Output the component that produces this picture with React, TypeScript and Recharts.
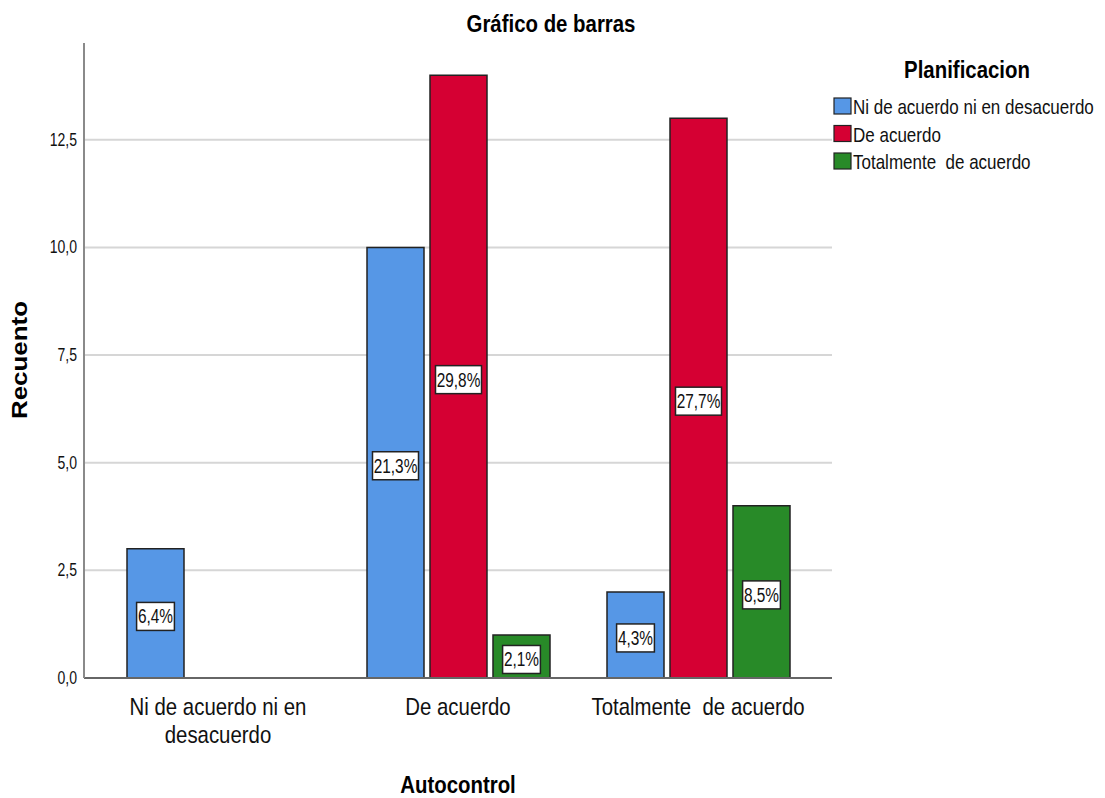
import React from "react";
import { BarChart, Bar, XAxis, YAxis, CartesianGrid, LabelList } from "recharts";

const categories = ["Ni de acuerdo ni en desacuerdo", "De acuerdo", "Totalmente  de acuerdo"];
const categoryLines = [["Ni de acuerdo ni en", "desacuerdo"], ["De acuerdo"], ["Totalmente  de acuerdo"]];
const seriesNames = ["Ni de acuerdo ni en desacuerdo", "De acuerdo", "Totalmente  de acuerdo"];
const seriesColors = ["#5697e6", "#d50033", "#288a28"];
const niValues = [3, 10, 2];
const deValues = [null, 14, 13];
const totValues = [null, 1, 4];
const niPct = ["6,4%", "21,3%", "4,3%"];
const dePct = [null, "29,8%", "27,7%"];
const totPct = [null, "2,1%", "8,5%"];
const yTicks = [0, 2.5, 5, 7.5, 10, 12.5];
const yTickLabels = ["0,0", "2,5", "5,0", "7,5", "10,0", "12,5"];
const yMax = 14.75;

const data = categories.map((c, i) => ({
  cat: c,
  ni: niValues[i],
  de: deValues[i],
  tot: totValues[i],
  niL: niPct[i],
  deL: dePct[i],
  totL: totPct[i],
}));

const FONT = "'Liberation Sans', Arial, sans-serif";

function T({ x, y, fs, bold, s = 0.85, anchor = "middle", rotate = 0, fill = "#000", children }: any) {
  return (
    <text
      transform={`translate(${x},${y}) rotate(${rotate}) scale(${s},1)`}
      fontSize={fs}
      fontFamily={FONT}
      fontWeight={bold ? "bold" : "normal"}
      textAnchor={anchor}
      fill={fill}
      style={{ whiteSpace: "pre" }}
    >
      {children}
    </text>
  );
}

function XTick(props: any) {
  const { x, y, payload } = props;
  const idx = categories.indexOf(payload.value);
  const lines = categoryLines[idx] || [payload.value];
  return (
    <g>
      {lines.map((l, i) => (
        <T key={i} x={x} y={y + 37 + i * 28} fs={24} fill="#111">
          {l}
        </T>
      ))}
    </g>
  );
}

function YTick(props: any) {
  const { x, y, payload } = props;
  const idx = yTicks.indexOf(payload.value);
  return (
    <T x={x} y={y + 6} fs={18} s={0.78} anchor="end" fill="#111">
      {yTickLabels[idx]}
    </T>
  );
}

function PctLabel(props: any) {
  const { x, y, width, height, value } = props;
  if (value == null) return null;
  const cx = x + width / 2;
  const cy = y + height / 2 + 3;
  const w = String(value).length * 8.2 + 5;
  const h = 28;
  return (
    <g>
      <rect x={cx - w / 2} y={cy - h / 2} width={w} height={h} fill="#fff" stroke="#222" strokeWidth={1.5} />
      <T x={cx} y={cy + 7} fs={20} s={0.77} fill="#111">
        {value}
      </T>
    </g>
  );
}

function gridRows(p: any) {
  const sc = p && p.yAxis && p.yAxis.scale;
  const ts = yTicks.filter((t) => t > 0);
  if (typeof sc === "function") return ts.map((t) => sc(t));
  const off = p.offset;
  return ts.map((t) => off.top + off.height * (1 - t / yMax));
}

export default function App() {
  return (
    <div style={{ position: "absolute", left: 0, top: 0, width: 1105, height: 798, background: "#fff" }}>
      <BarChart
        width={1105}
        height={798}
        data={data}
        margin={{ top: 43, right: 273, bottom: 60, left: 24 }}
        barSize={57}
        barGap={6}
      >
        <CartesianGrid vertical={false} stroke="#d6d6d6" strokeWidth={2} horizontalCoordinatesGenerator={gridRows} />
        <XAxis
          dataKey="cat"
          height={60}
          padding={{ left: 14, right: 14 }}
          tickLine={false}
          tickSize={0}
          tickMargin={0}
          axisLine={{ stroke: "#666", strokeWidth: 2 }}
          tick={<XTick />}
          interval={0}
        />
        <YAxis
          width={60}
          domain={[0, yMax]}
          ticks={yTicks}
          tickLine={false}
          tickSize={0}
          tickMargin={7}
          axisLine={{ stroke: "#8a8a8a", strokeWidth: 2 }}
          tick={<YTick />}
          allowDataOverflow
        />
        <Bar dataKey="ni" name={seriesNames[0]} fill={seriesColors[0]} stroke="#222" strokeWidth={1.5} isAnimationActive={false}>
          <LabelList dataKey="niL" content={<PctLabel />} />
        </Bar>
        <Bar dataKey="de" name={seriesNames[1]} fill={seriesColors[1]} stroke="#222" strokeWidth={1.5} isAnimationActive={false}>
          <LabelList dataKey="deL" content={<PctLabel />} />
        </Bar>
        <Bar dataKey="tot" name={seriesNames[2]} fill={seriesColors[2]} stroke="#222" strokeWidth={1.5} isAnimationActive={false}>
          <LabelList dataKey="totL" content={<PctLabel />} />
        </Bar>
      </BarChart>
      <svg width={1105} height={798} style={{ position: "absolute", left: 0, top: 0, pointerEvents: "none" }}>
        <T x={551} y={32} fs={24} bold>
          Gráfico de barras
        </T>
        <T x={458} y={793} fs={24} bold>
          Autocontrol
        </T>
        <T x={27} y={360} fs={22} bold s={1.18} rotate={-90}>
          Recuento
        </T>
        <T x={967} y={78} fs={24} bold>
          Planificacion
        </T>
        {seriesNames.map((n, i) => (
          <g key={n}>
            <rect x={834} y={98 + i * 27.5} width={17} height={16} fill={seriesColors[i]} stroke="#222" strokeWidth={1.2} />
            <T x={853} y={114 + i * 27.5} fs={20} anchor="start" fill="#111">
              {n}
            </T>
          </g>
        ))}
      </svg>
    </div>
  );
}
